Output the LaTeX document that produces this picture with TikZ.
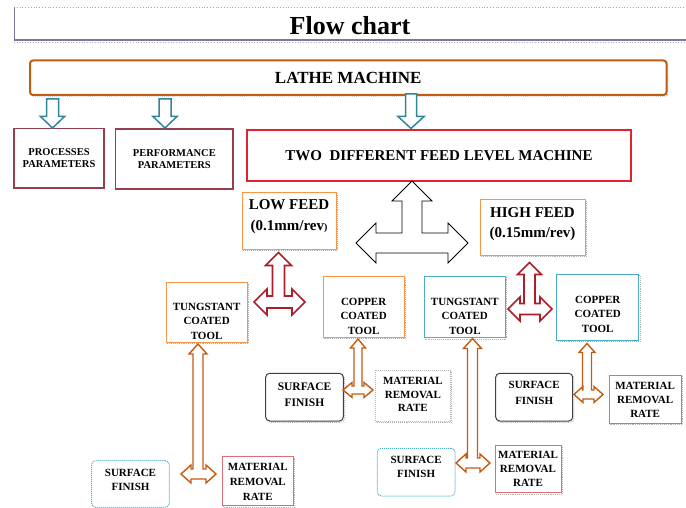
\documentclass[tikz,border=0pt]{standalone}
\usepackage{fontspec}
\setmainfont{Liberation Serif}
\usetikzlibrary{shadows}
\definecolor{lathec}{RGB}{197,90,17}
\definecolor{tealc}{RGB}{49,133,156}
\definecolor{maroonc}{RGB}{150,62,78}
\definecolor{redc}{RGB}{226,35,45}
\definecolor{orangec}{RGB}{247,150,70}
\definecolor{bluec}{RGB}{75,172,198}
\definecolor{pinkc}{RGB}{224,108,117}
\definecolor{darkredc}{RGB}{172,30,40}
\definecolor{slatec}{RGB}{120,120,160}
% three-way block arrow: style, cx, top tip y, horizontal centre y, left tip x, right tip x, head length, head half width, shaft half width
\newcommand{\tarrow}[9]{%
  \draw[#1] (#2,#3) -- (#2+#8,#3+#7) -- (#2+#9,#3+#7) -- (#2+#9,#4-#9)
    -- (#6-#7,#4-#9) -- (#6-#7,#4-#8) -- (#6,#4) -- (#6-#7,#4+#8) -- (#6-#7,#4+#9)
    -- (#5+#7,#4+#9) -- (#5+#7,#4+#8) -- (#5,#4) -- (#5+#7,#4-#8) -- (#5+#7,#4-#9)
    -- (#2-#9,#4-#9) -- (#2-#9,#3+#7) -- (#2-#8,#3+#7) -- cycle;}
% down block arrow: cx, top y, head base y, tip y, shaft half width, head half width
\newcommand{\darrow}[6]{%
  \draw[tealarrow] (#1-#5,#2) -- (#1+#5,#2) -- (#1+#5,#3) -- (#1+#6,#3) -- (#1,#4)
    -- (#1-#6,#3) -- (#1-#5,#3) -- cycle;}
\begin{document}
\begin{tikzpicture}[x=1pt,y=-1pt,
  box/.style={draw, fill=white, inner sep=0pt, align=center},
  shd/.style={general shadow={shadow xshift=1.3pt, shadow yshift=-1.3pt, draw=gray!60, densely dotted, line width=0.9pt, fill=none}},
  txt/.style={align=center, inner sep=0pt, font=\fontsize{11}{14.5}\selectfont\bfseries},
  tealarrow/.style={draw=tealc, line width=1.5pt, fill=white, line join=miter},
  redarrow/.style={draw=darkredc, line width=1.6pt, fill=white, line join=miter},
  brownarrow/.style={draw=lathec, line width=1.4pt, fill=white, line join=miter},
  blackarrow/.style={draw=black, line width=0.8pt, fill=white, line join=miter}]
\fill[white] (0,0) rectangle (686,508);
\useasboundingbox (0,0) rectangle (686,508);

% title bar
\coordinate (tl) at (14,7);
\coordinate (tr) at (686,7);
\coordinate (bl) at (14,40);
\coordinate (br) at (686,40);
\draw[gray!70, dotted, line width=0.8pt] (tl) -- (tr);
\draw[slatec, line width=0.8pt] (tl) -- (bl);
\draw[slatec, line width=1.3pt] (bl) -- (br);
\draw[gray!60, dotted, line width=0.7pt] ([yshift=-2.5pt]bl) -- ([yshift=-2.5pt]br);
\node[anchor=base, inner sep=0pt, font=\fontsize{26}{30}\selectfont\bfseries] (title) at (350,35) {Flow chart};

% top boxes
\node[box, shd, draw=lathec, line width=2pt, rounded corners=3pt, minimum width=636.5pt, minimum height=34.5pt,
  font=\fontsize{17}{20}\selectfont\bfseries] (lathe) at (348.25,77.75) {LATHE MACHINE};
\node[box, draw=maroonc, line width=1.5pt, minimum width=90pt, minimum height=59.5pt,
  font=\fontsize{10.5}{11.5}\selectfont\bfseries] (proc) at (59,158.25) {PROCESSES\\PARAMETERS};
\node[box, draw=maroonc, line width=1.5pt, minimum width=117.3pt, minimum height=60pt,
  font=\fontsize{10.5}{11.5}\selectfont\bfseries] (perf) at (174.35,159) {PERFORMANCE\\PARAMETERS};
\node[box, draw=redc, line width=2pt, minimum width=384pt, minimum height=51pt,
  font=\fontsize{15}{18}\selectfont\bfseries] (two) at (439,155.5) {TWO\ \ DIFFERENT FEED LEVEL MACHINE};

% feed boxes
\node[box, shd, draw=orangec, line width=1pt, minimum width=94pt, minimum height=56pt] (low) at (289,221) {};
\node[txt, font=\fontsize{15}{21}\selectfont\bfseries] (lowt) at (289,216.5) {LOW FEED\\(0.1mm/rev{\fontsize{10}{10}\selectfont)}};
\node[box, shd, draw=orangec, line width=1pt, minimum width=105pt, minimum height=55pt] (high) at (532.5,227.5) {};
\node[txt, font=\fontsize{15}{20}\selectfont\bfseries] (hight) at (532.5,224) {HIGH FEED\\(0.15mm/rev)};

% tool boxes
\node[box, shd, draw=orangec, line width=1pt, minimum width=81.3pt, minimum height=59.6pt] (tung1) at (206.65,312.5) {};
\node[txt] (tung1t) at (206.65,321.3) {TUNGSTANT\\COATED\\TOOL};
\node[box, shd, draw=orangec, line width=1pt, minimum width=80.7pt, minimum height=61.3pt] (cop1) at (363.65,306.65) {};
\node[txt] (cop1t) at (363.65,316) {COPPER\\COATED\\TOOL};
\node[box, shd, draw=bluec, line width=1pt, minimum width=81pt, minimum height=61.7pt] (tung2) at (464.8,306.85) {};
\node[txt] (tung2t) at (464.8,316) {TUNGSTANT\\COATED\\TOOL};
\node[box, shd, draw=bluec, line width=1pt, minimum width=82pt, minimum height=65.7pt] (cop2) at (597.7,307.15) {};
\node[txt] (cop2t) at (597.7,314) {COPPER\\COATED\\TOOL};

% result boxes
\node[box, shd, draw=black!75, line width=1pt, rounded corners=4pt, minimum width=77.6pt, minimum height=47.7pt] (sf1) at (304.5,397.15) {};
\node[txt, font=\fontsize{11.5}{15.5}\selectfont\bfseries] (sf1t) at (304.5,394.5) {SURFACE\\FINISH};
\node[box, shd, draw=gray!55, densely dotted, line width=1pt, minimum width=74.3pt, minimum height=51pt] (mrr1) at (412.85,395.5) {};
\node[txt, font=\fontsize{11}{13.8}\selectfont\bfseries] (mrr1t) at (412.85,394.5) {MATERIAL\\REMOVAL\\RATE};
\node[box, shd, draw=black!75, line width=1pt, rounded corners=4pt, minimum width=77pt, minimum height=47.7pt] (sf2) at (534.2,397.15) {};
\node[txt, font=\fontsize{11}{15.5}\selectfont\bfseries] (sf2t) at (534.2,393) {SURFACE\\FINISH};
\node[box, shd, draw=pinkc, line width=1pt, minimum width=71.7pt, minimum height=48.3pt] (mrr2) at (645.15,399.15) {};
\node[txt, font=\fontsize{11}{14}\selectfont\bfseries] (mrr2t) at (645.15,400) {MATERIAL\\REMOVAL\\RATE};
\node[box, draw=bluec, densely dotted, line width=1pt, rounded corners=4pt, minimum width=77.6pt, minimum height=46.6pt] (sf3) at (130.5,484) {};
\node[txt, font=\fontsize{11}{14}\selectfont\bfseries] (sf3t) at (130.5,480.3) {SURFACE\\FINISH};
\node[box, shd, draw=pinkc, line width=1pt, minimum width=71pt, minimum height=49pt] (mrr3) at (257.8,481.2) {};
\node[txt, font=\fontsize{11}{14.7}\selectfont\bfseries] (mrr3t) at (257.8,481.7) {MATERIAL\\REMOVAL\\RATE};
\node[box, draw=bluec, densely dotted, line width=1pt, rounded corners=4pt, minimum width=77.7pt, minimum height=47.7pt] (sf4) at (416.15,472.15) {};
\node[txt, font=\fontsize{11}{14}\selectfont\bfseries] (sf4t) at (416.15,467) {SURFACE\\FINISH};
\node[box, shd, draw=pinkc, line width=1pt, minimum width=66pt, minimum height=47pt] (mrr4) at (528,469.2) {};
\node[txt, font=\fontsize{11}{13.7}\selectfont\bfseries] (mrr4t) at (528,469) {MATERIAL\\REMOVAL\\RATE};

% teal down arrows
\darrow{52.5}{99}{116.5}{128}{6}{12}
\darrow{165}{99}{116.5}{128}{6}{12}
\darrow{411}{94}{116.5}{128.5}{5.5}{13}

% black three-way arrow
\tarrow{blackarrow}{412}{181}{243}{356}{468}{20}{20}{10}
% dark red three-way arrows
\tarrow{redarrow}{278.5}{252.5}{302}{254}{305}{13}{13}{6}
\tarrow{redarrow}{529.5}{262.5}{309}{508}{552}{12}{12}{5.5}
% brown arrows
\tarrow{brownarrow}{358}{339}{390}{343}{373}{9}{7.5}{4}
\tarrow{brownarrow}{198}{344}{474}{181}{216}{10}{9}{5}
\tarrow{brownarrow}{472.5}{338.5}{463}{456}{490}{10}{9}{5}
\tarrow{brownarrow}{587}{343.5}{394.5}{574}{603}{9}{8}{4.5}
\end{tikzpicture}
\end{document}
